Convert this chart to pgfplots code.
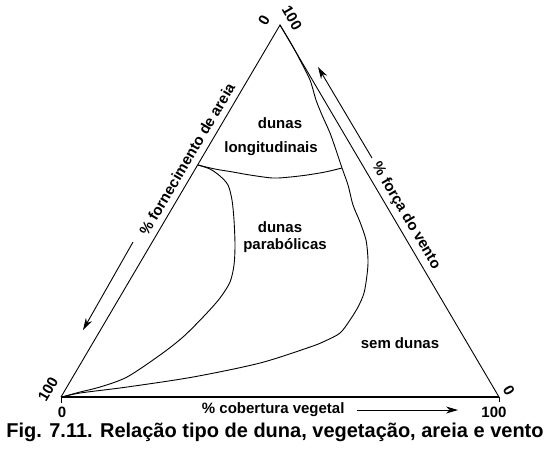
\documentclass[border=0pt]{standalone}
\usepackage{fontspec}
\setmainfont{Liberation Sans}
\usepackage{pgfplots}
\pgfplotsset{compat=1.18}
\usetikzlibrary{arrows.meta}
\tikzset{lbl/.style={font=\fontsize{15bp}{18bp}\selectfont\bfseries}}

\begin{document}
\begin{tikzpicture}
\begin{axis}[
  width=550bp, height=450bp, scale only axis,
  xmin=0, xmax=550, ymin=0, ymax=450,
  y dir=reverse,
  hide axis, clip=false,
  cycle list={{black, solid, no markers}},
  every axis plot/.append style={line width=0.9bp},
]
% page frame
\addplot[draw=none] coordinates {(0,0) (550,450)};

% triangle (pixel frame of the figure)
\addplot coordinates {(61,397) (280,25) (499,397)};
\addplot[black, line width=1.4bp] coordinates {(61,397) (499,397)};
\addplot coordinates {(61,397) (61,403)};
\addplot coordinates {(499,397) (499,402)};

% boundary: dunas longitudinais / parabolicas
\addplot+[smooth, tension=0.5] coordinates {
  (198,165) (215,169) (233,172) (250,175) (273,178) (290,177) (307,175) (325,172) (342,168)};

% boundary: dunas parabolicas (left curve)
\addplot+[smooth, tension=0.5] coordinates {
  (198,165) (210,169) (220,176) (228,185) (232,200) (234,220) (235,245) (234,265)
  (230,282) (220,298) (205,315) (183,337) (160,355) (127,377) (100,387) (80,392) (62,397)};

% boundary: sem dunas (right curve)
\addplot+[smooth, tension=0.5] coordinates {
  (280,25) (292,45) (300,60) (310,80) (316,100) (322,115) (330,133) (336,150)
  (342,168) (348,185) (353,205) (360,222) (366,240) (368,260) (367,275) (364,293)
  (358,307) (350,320) (340,333) (325,341) (310,347) (260,363) (193,377) (127,387)
  (80,393) (62,397)};

% axis arrows
\addplot+[-{Stealth[length=12bp,width=7bp]}] coordinates {(133,242) (83,330)};
\addplot+[-{Stealth[length=12bp,width=7bp]}] coordinates {(372,158) (318,67)};
\addplot+[-{Stealth[length=12bp,width=7bp]}] coordinates {(357,410) (458,410)};

% region labels
\node[lbl] at (axis cs:280,123) {dunas};
\node[lbl] at (axis cs:271,149) {longitudinais};
\node[lbl] at (axis cs:280,227) {dunas};
\node[lbl] at (axis cs:285,246) {parabólicas};
\node[lbl] at (axis cs:400,343) {sem dunas};

% axis titles
\node[lbl, rotate=59.5] at (axis cs:187,159) {\% fornecimento de areia};
\node[lbl, rotate=-59.5] at (axis cs:406,216) {\% força do vento};
\node[lbl, anchor=east] at (axis cs:348,410) {\% cobertura vegetal};

% corner values
\node[lbl, rotate=60] at (axis cs:264,20) {0};
\node[lbl, rotate=-60] at (axis cs:292,18) {100};
\node[lbl, rotate=60] at (axis cs:48,389) {100};
\node[lbl] at (axis cs:62,412) {0};
\node[lbl, rotate=-60] at (axis cs:509,390) {0};
\node[lbl] at (axis cs:494,412) {100};

% caption
\node[font=\fontsize{20bp}{24bp}\selectfont\bfseries] at (axis cs:275,432)
  {Fig. 7.11. Relação tipo de duna, vegetação, areia e vento};
\end{axis}
\end{tikzpicture}
\end{document}
